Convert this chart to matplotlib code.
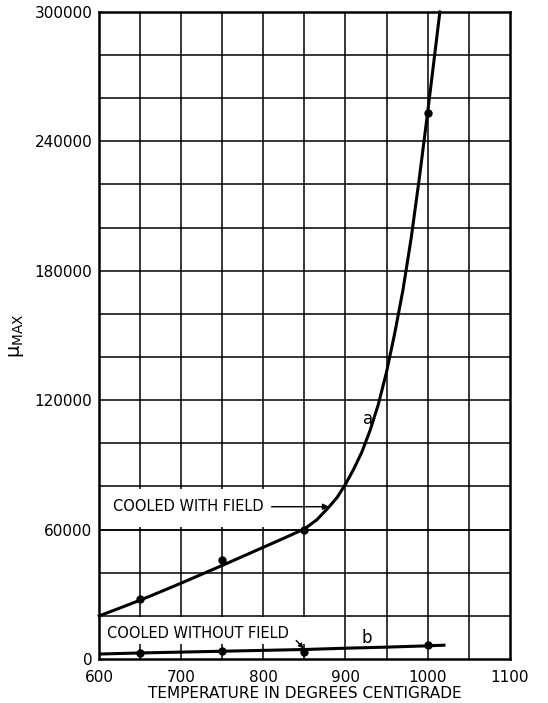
import matplotlib
matplotlib.use("Agg")
import matplotlib.pyplot as plt
from matplotlib.patches import Rectangle

# curve a: cooled with field
temp_a = [600, 625, 650, 675, 700, 725, 750, 775, 800, 825, 850, 865, 880, 890, 900,
          910, 920, 930, 940, 950, 960, 970, 980, 990, 1000, 1008, 1015]
mu_a = [20000, 23600, 27300, 31200, 35200, 39300, 43400, 47600, 51800, 56000, 60300,
        64500, 70500, 75000, 81000, 88000, 96000, 106000, 118000, 133000, 151000,
        171000, 195000, 223000, 253000, 278000, 300000]
# measured points on a
pts_a_t = [650, 750, 850, 1000]
pts_a_mu = [27700, 46000, 60000, 253000]

# curve b: cooled without field
temp_b = [600, 650, 700, 750, 800, 850, 900, 950, 1000, 1020]
mu_b = [2300, 2800, 3200, 3600, 4000, 4400, 5000, 5500, 6100, 6400]
pts_b_t = [650, 750, 850, 1000]
pts_b_mu = [3000, 3800, 3300, 6300]

xticks = [600, 700, 800, 900, 1000, 1100]
yticks = [0, 60000, 120000, 180000, 240000, 300000]

fig = plt.figure(figsize=(5.48, 7.03), dpi=100)
ax = fig.add_axes([0.181, 0.0626, 0.749, 0.9204])

ax.set_xlim(600, 1100)
ax.set_ylim(0, 300000)

# grid every 50 deg and every 20000
for gx in range(650, 1100, 50):
    ax.axvline(gx, color="black", lw=1.1, zorder=1)
for gy in range(20000, 300000, 20000):
    ax.axhline(gy, color="black", lw=1.1, zorder=1)

# white patches behind the lettering, as on the original sheet
ax.add_patch(Rectangle((600, 61300), 242, 17400, facecolor="white",
                       edgecolor="none", zorder=1.5))
ax.add_patch(Rectangle((600, 6800), 258, 12500, facecolor="white",
                       edgecolor="none", zorder=1.5))
ax.axhline(60000, color="black", lw=1.1, zorder=1.6)

ax.plot(temp_a, mu_a, color="black", lw=2.2, zorder=3, clip_on=False,
        solid_joinstyle="round")
ax.plot(pts_a_t, pts_a_mu, "o", color="black", ms=5, zorder=4)
ax.plot(temp_b, mu_b, color="black", lw=2.2, zorder=3)
ax.plot(pts_b_t, pts_b_mu, "o", color="black", ms=5, zorder=4)

fs = 10.5
ax.text(617, 70600, "COOLED WITH FIELD", fontsize=fs, va="center", ha="left",
        zorder=5)
ax.annotate("", xy=(880, 70600), xytext=(810, 70600),
            arrowprops=dict(arrowstyle="-|>", color="black", lw=1.0,
                            mutation_scale=9, shrinkA=0, shrinkB=0), zorder=5)
ax.text(610, 11600, "COOLED WITHOUT FIELD", fontsize=fs, va="center", ha="left",
        zorder=5)
ax.annotate("", xy=(849, 4900), xytext=(840, 8600),
            arrowprops=dict(arrowstyle="-|>", color="black", lw=1.0,
                            mutation_scale=7, shrinkA=0, shrinkB=0), zorder=5)

ax.text(928, 111500, "a", fontsize=12, ha="center", va="center", zorder=2.5,
        bbox=dict(facecolor="white", edgecolor="none", pad=1.5))
ax.text(926, 9800, "b", fontsize=12, ha="center", va="center", zorder=5)

ax.set_xticks(xticks)
ax.set_yticks(yticks)
ax.set_xticklabels([str(t) for t in xticks], fontsize=11)
ax.set_yticklabels([str(t) for t in yticks], fontsize=11)
ax.tick_params(axis="y", length=0, pad=5)
ax.tick_params(axis="x", length=0, pad=8)
for s in ax.spines.values():
    s.set_linewidth(1.8)

ax.set_xlabel("TEMPERATURE IN DEGREES CENTIGRADE", fontsize=11, labelpad=1)
ax.set_ylabel("μ$_{\\rm MAX}$", fontsize=14, labelpad=6)

fig.savefig("out.png", dpi=100)
